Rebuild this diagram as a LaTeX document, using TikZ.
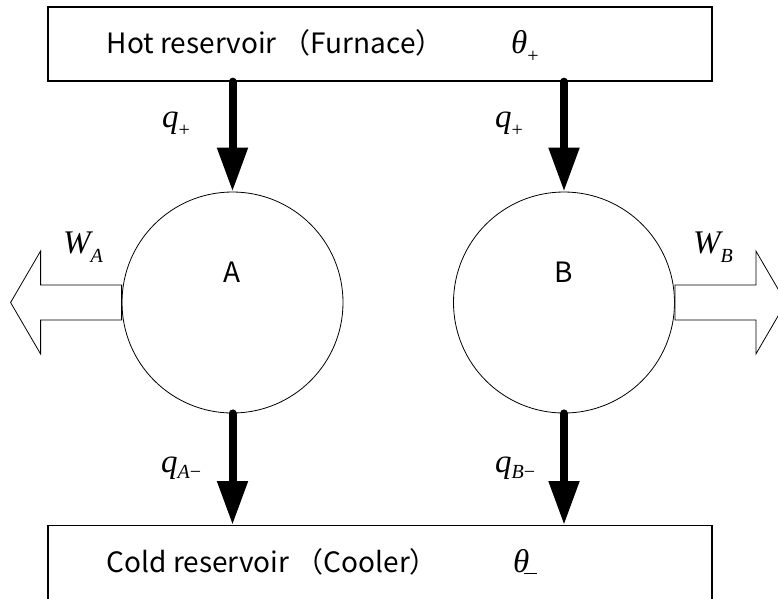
\documentclass[tikz,border=0pt]{standalone}
\usepackage{fontspec}
\setmainfont{Noto Sans CJK JP}
\newfontfamily\symfont{Liberation Serif}
\usetikzlibrary{arrows.meta}

% symbol with a lowered, smaller subscript
\newcommand\symsub[3]{{\itshape #1}\raisebox{-#3}{\fontsize{20}{20}\selectfont #2}}

\begin{document}
\begin{tikzpicture}[x=1pt,y=-1pt,
  reservoir/.style={draw, line width=1.3pt, minimum width=664pt, inner sep=0pt},
  engine/.style={draw, circle, line width=0.8pt, minimum size=221pt, inner sep=0pt},
  heat/.style={line width=8pt, line cap=round, -{Triangle[width=29pt,length=44pt]}},
  work/.style={draw, line width=0.8pt, fill=white, line join=miter},
  lbl/.style={font=\fontsize{28}{30}\selectfont, inner sep=0pt},
  var/.style={inner sep=0pt, anchor=base west, font=\symfont\fontsize{33}{35}\selectfont}
]
\useasboundingbox (0,0) rectangle (778,598);

% reservoirs
\node[reservoir, minimum height=74pt] (hot) at (380,44) {};
\node[reservoir, minimum height=120pt, anchor=north] (cold) at (380,525) {};
\node[lbl, anchor=base west] (hottext) at (106.5,53) {Hot reservoir （Furnace）};
\node[lbl, anchor=base west] (coldtext) at (106.5,572) {Cold reservoir （Cooler）};
\node[var] (thetaP) at (511,53) {\symsub{θ}{+}{9pt}};
\node[var] (thetaM) at (513,572) {{\itshape θ}\kern-5pt\rule[-1.5pt]{13pt}{1pt}};

% engines
\node[engine] (A) at (232.5,302.5) {};
\node[engine] (B) at (564,302.5) {};
\node[lbl] (Alabel) at ([yshift=30pt]A.center) {A};
\node[lbl] (Blabel) at ([yshift=30pt]B.center) {B};

% heat flows
\draw[heat] (hot.south -| A) -- (A.north);
\draw[heat] (hot.south -| B) -- (B.north);
\draw[heat] (A.south) -- (A.south |- cold.north);
\draw[heat] (B.south) -- (B.south |- cold.north);

\node[var] (qAin) at (162,127) {\symsub{q}{+}{9pt}};
\node[var] (qBin) at (495,127) {\symsub{q}{+}{9pt}};
\node[var] (qAout) at (161,472) {\symsub{q}{{\itshape A}−}{6pt}};
\node[var] (qBout) at (495,472) {\symsub{q}{{\itshape B}−}{6pt}};

% work outputs (hollow arrows)
\draw[work] (A.west) ++(0,-17.5) -- ++(-81,0) -- ++(0,-34) -- ++(-30,51.5)
  -- ++(30,51.5) -- ++(0,-34) -- ++(81,0) -- cycle;
\draw[work] (B.east) ++(0,-17.5) -- ++(81,0) -- ++(0,-34) -- ++(30,51.5)
  -- ++(-30,51.5) -- ++(0,-34) -- ++(-81,0) -- cycle;

\node[var] (WA) at (63,253) {\symsub{W}{{\itshape A}}{9pt}};
\node[var] (WB) at (693,253) {\symsub{W}{{\itshape B}}{9pt}};
\end{tikzpicture}
\end{document}
